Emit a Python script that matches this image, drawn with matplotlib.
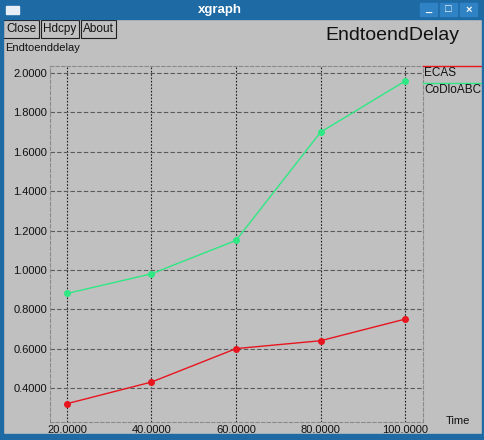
import matplotlib
matplotlib.use("Agg")
import matplotlib.pyplot as plt
from matplotlib.patches import Rectangle

# data
times = [20, 40, 60, 80, 100]
ecas = [0.32, 0.43, 0.60, 0.64, 0.75]
codlo = [0.88, 0.98, 1.15, 1.70, 1.96]
series_names = ["ECAS", "CoDloABCD"]
xticks = [20, 40, 60, 80, 100]
yticks = [0.4, 0.6, 0.8, 1.0, 1.2, 1.4, 1.6, 1.8, 2.0]

plt.rcParams["font.family"] = ["Liberation Sans", "DejaVu Sans"]

W, H = 485, 440
bg = "#c0c0c0"
frame = "#1d6aa5"
red = "#e8141e"
green = "#2ee883"

fig = plt.figure(figsize=(W / 100, H / 100), dpi=100)
fig.patch.set_facecolor(bg)

def px(x, y, w, h, z=1, **kw):
    # rectangle in pixel coords (origin top-left)
    r = Rectangle((x / W, 1 - (y + h) / H), w / W, h / H, transform=fig.transFigure, zorder=z, **kw)
    fig.patches.append(r)
    return r

def txt(x, y, s, **kw):
    return fig.text(x / W, 1 - y / H, s, **kw)

# window frame (drawn above everything so long labels get cut, like the real window)
px(0, 0, W, 19, z=10, color=frame)
px(0, 0, 3, H, z=10, color=frame)
px(W - 3, 0, 3, H, z=10, color=frame)
px(0, H - 6, W, 6, z=10, color=frame)
px(6, 6, 13, 8, z=11, color="#e8eef5")
txt(220, 10, "xgraph", color="white", fontsize=9.5, fontweight="bold", ha="center", va="center", zorder=12)
for i, sym in enumerate(["_", "\u25a1", "\u00d7"]):
    bx = 420 + i * 20
    px(bx, 3, 17, 13, z=11, color="#2f82c4")
    txt(bx + 8.5, 9.5, sym, color="white", fontsize=8, fontweight="bold", ha="center", va="center", zorder=12)

# buttons
for label, x0, w in [("Close", 3, 36), ("Hdcpy", 41, 38), ("About", 81, 35)]:
    px(x0, 20, w, 18, facecolor=bg, edgecolor="#202020", lw=0.8)
    txt(x0 + w / 2, 29, label, fontsize=8.5, ha="center", va="center", color="#111111")

txt(392, 35, "EndtoendDelay", fontsize=14, ha="center", va="center", color="#111111")
txt(5, 48, "Endtoenddelay", fontsize=8, ha="left", va="center", color="#111111")

# plot area
ax = fig.add_axes([50 / W, 1 - 422 / H, 373 / W, 356 / H])
ax.set_facecolor(bg)
ax.set_xlim(16, 104.2)
ax.set_ylim(0.227, 2.036)
for s in ax.spines.values():
    s.set_color("#8a8a8a")
    s.set_linestyle((0, (3, 2)))
    s.set_linewidth(0.8)
ax.set_xticks(xticks)
ax.set_xticklabels([f"{v:.4f}" for v in xticks])
ax.set_yticks(yticks)
ax.set_yticklabels([f"{v:.4f}" for v in yticks])
ax.tick_params(length=0, labelsize=8, colors="#111111", pad=2)
for v in xticks:
    ax.axvline(v, color="#202020", lw=0.8, ls=(0, (1.5, 1.5)), zorder=1)
for v in yticks:
    ax.axhline(v, color="#5a5a5a", lw=0.8, ls=(0, (4, 2)), zorder=1)

ax.plot(times, ecas, color=red, lw=1, marker="o", ms=4, zorder=3)
ax.plot(times, codlo, color=green, lw=1, marker="o", ms=4, zorder=3)

txt(458, 421, "Time", fontsize=8, ha="center", va="center", color="#111111")

# legend to the right of the box
for i, (name, c) in enumerate(zip(series_names, [red, green])):
    y = 66 + i * 17
    fig.add_artist(plt.Line2D([423 / W, 482 / W], [1 - y / H, 1 - y / H], color=c, lw=1,
                              transform=fig.transFigure))
    txt(424, y + 7, name, fontsize=8.5, ha="left", va="center", color="#111111", zorder=3)

fig.savefig("out.png", dpi=100, facecolor=bg)
